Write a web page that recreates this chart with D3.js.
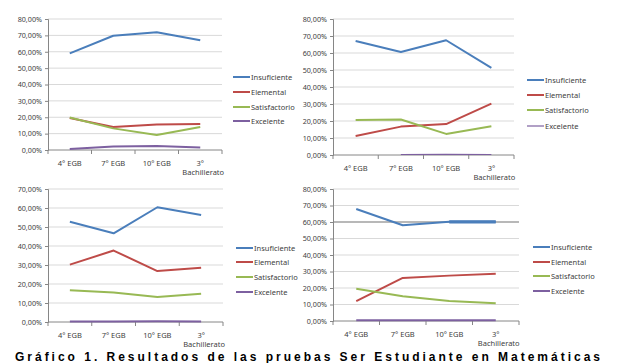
<!DOCTYPE html>
<html><head><meta charset="utf-8">
<script src="https://cdn.jsdelivr.net/npm/d3@7/dist/d3.min.js"></script>
<style>
html,body{margin:0;padding:0;background:#fff;overflow:hidden;}
svg{display:block;font-family:"Noto Sans",sans-serif;}
</style></head>
<body>
<svg id="chart" width="629" height="363"></svg>
<script>
// ---- Data ----
const categories = ["4° EGB", "7° EGB", "10° EGB", "3° Bachillerato"];
const seriesNames = ["Insuficiente", "Elemental", "Satisfactorio", "Excelente"];
const seriesColors = ["#4A7EBB", "#BE4B48", "#98B954", "#7D60A0"];

// Panel A (top-left)
const insuficienteA = [59.0, 69.8, 71.9, 67.0];
const elementalA = [19.6, 14.0, 15.5, 15.9];
const satisfactorioA = [19.8, 13.2, 9.2, 14.1];
const excelenteA = [0.6, 2.2, 2.4, 1.6];
const yTicksA = [0, 10, 20, 30, 40, 50, 60, 70, 80];

// Panel B (top-right)
const insuficienteB = [67.1, 60.6, 67.5, 51.2];
const elementalB = [11.2, 16.7, 18.2, 30.2];
const satisfactorioB = [20.6, 20.9, 12.4, 16.9];
const excelenteB = [null, 0.3, 0.4, 0.3];
const yTicksB = [0, 10, 20, 30, 40, 50, 60, 70, 80];

// Panel C (bottom-left)
const insuficienteC = [52.8, 46.7, 60.4, 56.3];
const elementalC = [30.2, 37.6, 26.8, 28.5];
const satisfactorioC = [16.7, 15.5, 13.2, 14.9];
const excelenteC = [0.3, 0.3, 0.4, 0.3];
const yTicksC = [0, 10, 20, 30, 40, 50, 60, 70];

// Panel D (bottom-right)
const insuficienteD = [67.9, 58.0, 60.1, 60.1];
const elementalD = [12.1, 26.1, 27.5, 28.7];
const satisfactorioD = [19.6, 15.0, 12.1, 10.7];
const excelenteD = [0.4, 0.4, 0.4, 0.4];
const yTicksD = [0, 10, 20, 30, 40, 50, 60, 70, 80];

const caption = "Gráfico 1. Resultados de las pruebas Ser Estudiante en Matemáticas";

// ---- Layout ----
const panels = [
  {series:[insuficienteA, elementalA, satisfactorioA, excelenteA], ticks:yTicksA,
   left:48, right:222, top:19, bottom:150, legX:233, legY:[77,92,107,121], widths:[2,2,2,2], legWidths:[2,2,2,2]},
  {series:[insuficienteB, elementalB, satisfactorioB, excelenteB], ticks:yTicksB,
   left:333, right:514, top:19, bottom:155, legX:527, legY:[80,95,110,126], widths:[2,2,2,1.2], legWidths:[2,2,2,1.2]},
  {series:[insuficienteC, elementalC, satisfactorioC, excelenteC], ticks:yTicksC,
   left:48, right:223, top:189, bottom:322, legX:236, legY:[248,262,277,292], widths:[2,2,2,2], legWidths:[2,2,2,2]},
  {series:[insuficienteD, elementalD, satisfactorioD, excelenteD], ticks:yTicksD,
   left:333, right:519, top:189, bottom:321, legX:533, legY:[247,262,276,291], widths:[2,2,2,2], legWidths:[2,2,2,2], darkGrid:60, thickFrom:2}
];

const svg = d3.select("#chart");
const fmt = v => d3.format(".2f")(v).replace(".", ",") + "%";

panels.forEach(p => {
  const g = svg.append("g");
  const x = d3.scaleBand().domain(categories).range([p.left, p.right]);
  const xc = c => x(c) + x.bandwidth() / 2;
  const y = d3.scaleLinear().domain([0, d3.max(p.ticks)]).range([p.bottom, p.top]);

  // gridlines
  g.selectAll("line.grid").data(p.ticks.filter(t => t > 0)).enter().append("line")
    .attr("x1", p.left).attr("x2", p.right)
    .attr("y1", d => y(d)).attr("y2", d => y(d))
    .attr("stroke", d => d === p.darkGrid ? "#b8b8b8" : "#d9d9d9")
    .attr("stroke-width", d => d === p.darkGrid ? 2 : 1);

  // y axis
  const yAxis = d3.axisLeft(y).tickValues(p.ticks).tickFormat(fmt).tickSize(3).tickPadding(3);
  const ya = g.append("g").attr("transform", `translate(${p.left},0)`).call(yAxis);
  ya.select(".domain").attr("stroke", "#868686");
  ya.selectAll(".tick line").attr("stroke", "#868686");
  ya.selectAll("text").attr("font-size", 7.2).attr("fill", "#404040").attr("font-family", "Noto Sans");

  // x axis
  const xa = g.append("g").attr("transform", `translate(0,${p.bottom})`);
  xa.append("line").attr("x1", p.left).attr("x2", p.right).attr("stroke", "#868686");
  const bounds = categories.map(c => x(c)).concat([p.right]);
  xa.selectAll("line.tk").data(bounds).enter().append("line")
    .attr("x1", d => d).attr("x2", d => d).attr("y1", 0).attr("y2", 4).attr("stroke", "#868686");
  categories.forEach(c => {
    const parts = c.startsWith("3°") ? ["3°", "Bachillerato"] : [c];
    const t = xa.append("text").attr("text-anchor", "middle").attr("font-size", 7.5).attr("fill", "#404040");
    parts.forEach((s, i) => {
      t.append("tspan").attr("x", xc(c) + (i === 1 ? 3 : 0)).attr("y", 15.5 + i * 9.5).text(s);
    });
  });

  // lines
  const line = d3.line().defined(d => d.v != null).x(d => xc(d.c)).y(d => y(d.v));
  p.series.forEach((vals, i) => {
    const pts = vals.map((v, j) => ({c: categories[j], v: v}));
    g.append("path").attr("d", line(pts)).attr("fill", "none")
      .attr("stroke", seriesColors[i]).attr("stroke-width", p.widths[i])
      .attr("stroke-linejoin", "round");
    if (i === 0 && p.thickFrom != null) {
      g.append("path").attr("d", line(pts.slice(p.thickFrom))).attr("fill", "none")
        .attr("stroke", seriesColors[i]).attr("stroke-width", 3.2);
    }
  });

  // legend
  seriesNames.forEach((n, i) => {
    g.append("line").attr("x1", p.legX).attr("x2", p.legX + 17)
      .attr("y1", p.legY[i]).attr("y2", p.legY[i])
      .attr("stroke", seriesColors[i]).attr("stroke-width", p.legWidths[i]);
    g.append("text").attr("x", p.legX + 18).attr("y", p.legY[i] + 2.7)
      .attr("font-size", 7.5).attr("fill", "#404040").text(n);
  });
});

svg.append("text").attr("x", 15).attr("y", 360.5)
  .attr("font-family", "Liberation Sans").attr("font-weight", "bold")
  .attr("font-size", 12).attr("fill", "#000")
  .attr("textLength", 585).attr("lengthAdjust", "spacing")
  .text(caption);
</script>
</body></html>
